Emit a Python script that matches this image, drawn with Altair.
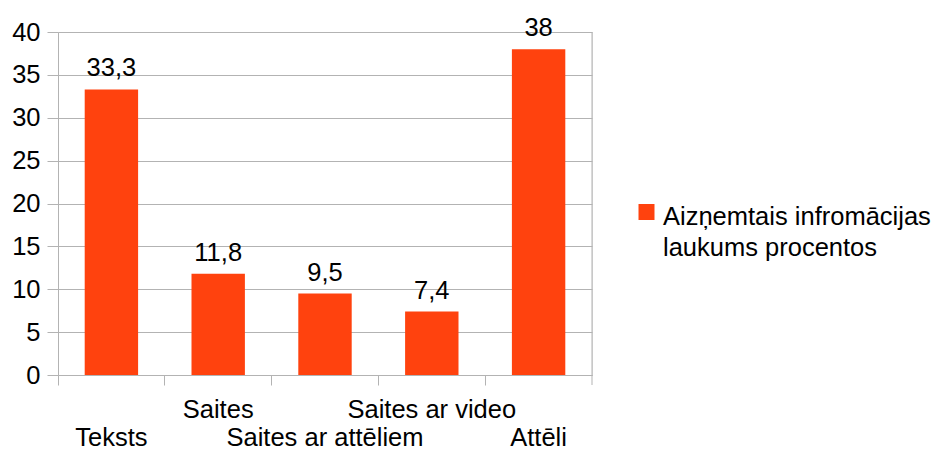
import altair as alt
import pandas as pd

categories = ["Teksts", "Saites", "Saites ar attēliem", "Saites ar video", "Attēli"]
values = [33.3, 11.8, 9.5, 7.4, 38]
label_rows = [1, 0, 1, 0, 1]  # 0 = upper row, 1 = lower row
series_name = "Aizņemtais infromācijas\nlaukums procentos"

df = pd.DataFrame({"cat": categories, "value": values, "row": label_rows})
legend_df = pd.DataFrame({"name": [series_name]})

W, H = 534, 343
FONT = "Liberation Sans"
FS = 25.5
GRID = "#b3b3b3"
BAR = "#ff420e"

x_enc = alt.X(
    "cat:N",
    sort=categories,
    scale=alt.Scale(paddingInner=0, paddingOuter=0),
    axis=alt.Axis(
        title=None, labels=False, bandPosition=0, tickSize=10,
        tickColor=GRID, domainColor=GRID, grid=False,
    ),
)
y_enc = alt.Y(
    "value:Q",
    scale=alt.Scale(domain=[0, 40], nice=False),
    axis=alt.Axis(
        title=None, values=list(range(0, 41, 5)), tickSize=11,
        tickColor=GRID, domainColor=GRID, gridColor=GRID,
        labelFont=FONT, labelFontSize=FS, labelColor="black", labelPadding=7,
    ),
)

bars = alt.Chart(df).mark_bar(color=BAR, width=alt.RelativeBandSize(0.5)).encode(x=x_enc, y=y_enc)

value_labels = alt.Chart(df).transform_calculate(
    lbl="replace(toString(datum.value), '.', ',')"
).mark_text(font=FONT, fontSize=FS, color="black", baseline="alphabetic", dy=-13).encode(
    x=alt.X("cat:N", sort=categories), y="value:Q", text="lbl:N"
)

upper = alt.Chart(df).transform_filter("datum.row == 0").mark_text(
    font=FONT, fontSize=FS, color="black", baseline="alphabetic"
).encode(x=alt.X("cat:N", sort=categories), y=alt.value(H + 43), text="cat:N")

lower = alt.Chart(df).transform_filter("datum.row == 1").mark_text(
    font=FONT, fontSize=FS, color="black", baseline="alphabetic"
).encode(x=alt.X("cat:N", sort=categories), y=alt.value(H + 71), text="cat:N")

end_tick = alt.Chart(legend_df).mark_rule(color=GRID).encode(
    x=alt.value(W), y=alt.value(0), y2=alt.value(H + 10)
)

legend_sq = alt.Chart(legend_df).mark_square(color=BAR, opacity=1, size=256).encode(
    x=alt.value(588.5), y=alt.value(180)
)
legend_txt = alt.Chart(legend_df).mark_text(
    font=FONT, fontSize=FS, color="black", align="left", baseline="alphabetic",
    lineBreak="\n", lineHeight=31,
).encode(x=alt.value(605), y=alt.value(192.5), text="name:N")

chart = alt.layer(
    bars, value_labels, upper, lower, end_tick, legend_sq, legend_txt
).properties(
    width=W, height=H,
    autosize=alt.AutoSizeParams(type="none"),
    padding={"left": 50, "top": 24, "right": 339, "bottom": 77},
).configure_view(stroke=GRID).configure(background="white")

chart.save("out.html", embed_options={"renderer": "svg", "actions": False})
